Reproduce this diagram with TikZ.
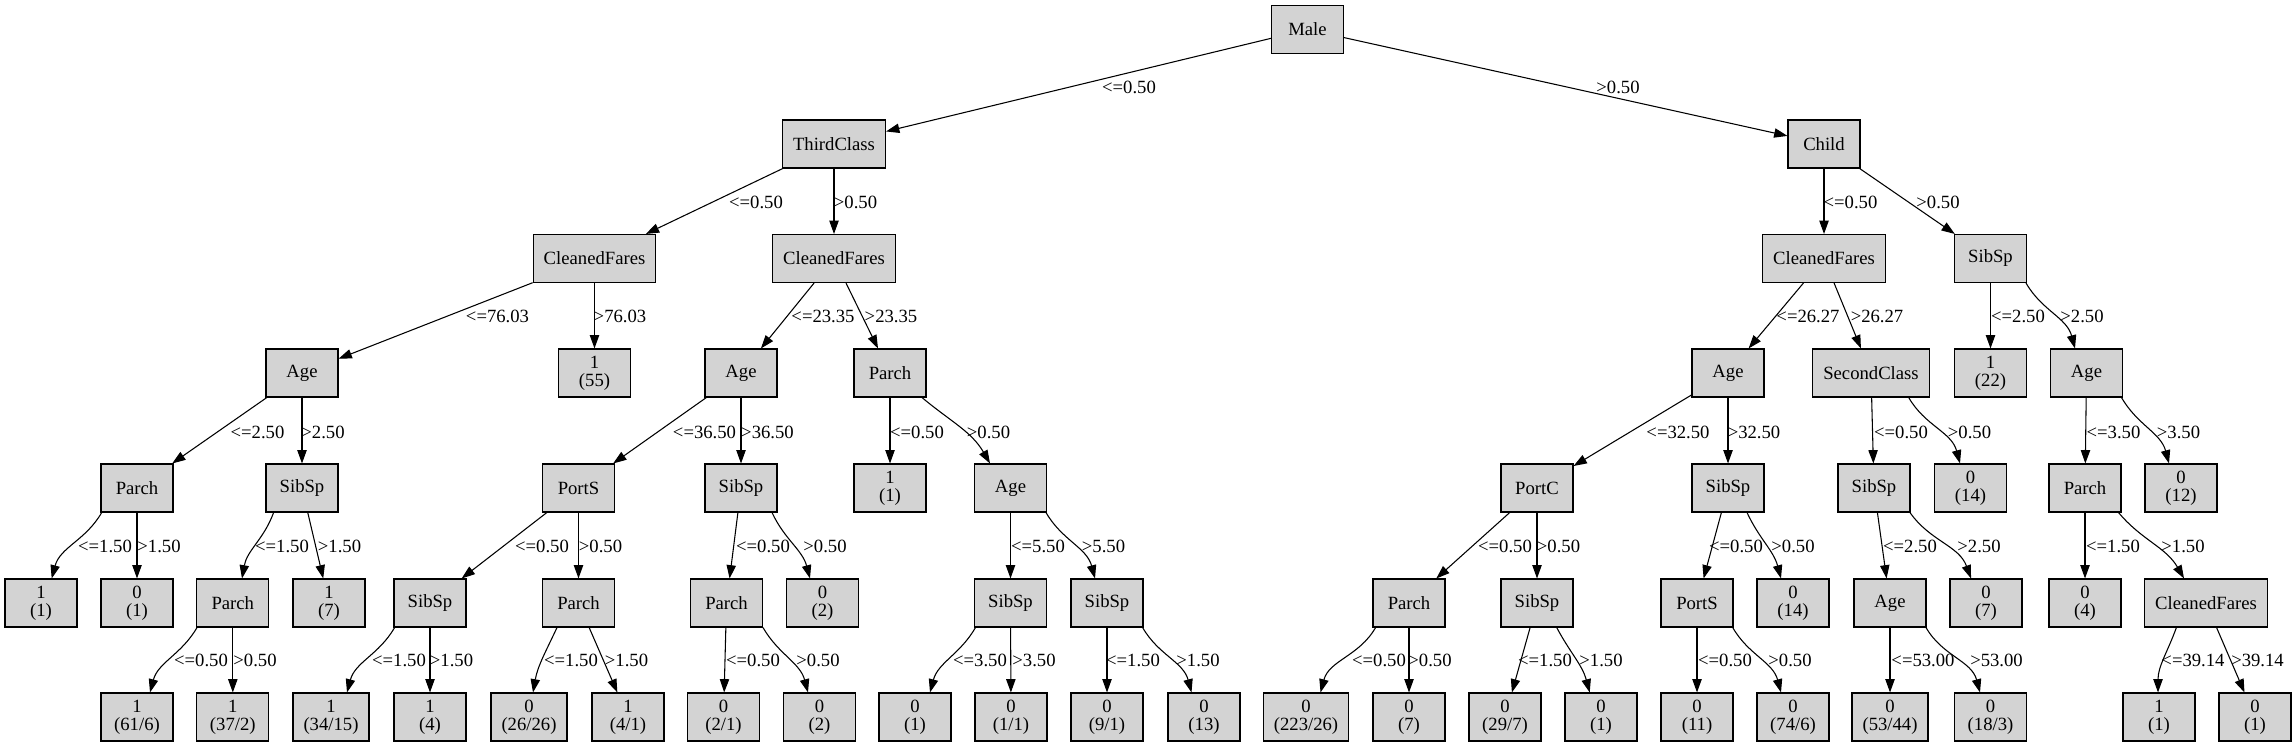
\documentclass[tikz,border=0pt]{standalone}
\usepackage{fontspec}
\setmainfont{Liberation Serif}
\usetikzlibrary{arrows.meta,calc}
\definecolor{nodegray}{HTML}{D3D3D3}
\newcommand\es[5]{\draw[conn] (#1) -- (#2) node[lbl] at (#4,#5) {#3};}
\newcommand\ec[9]{\draw[conn] ($(#1.south)+(#2,0)$) to[out=#5,in=#6] ($(#3.north)+(#4,0)$) node[lbl] at (#8,#9) {#7};}
\begin{document}
\begin{tikzpicture}[x=0.75pt,y=0.75pt,
  box/.style={draw=black, fill=nodegray, line width=0.8pt, rectangle, minimum width=54pt, minimum height=36pt, inner xsep=7.9pt, inner ysep=2pt, align=center, font=\fontsize{14pt}{13.7pt}\selectfont},
  conn/.style={draw=black, line width=0.8pt, -{Triangle[length=10pt,width=7pt]}},
  lbl/.style={font=\fontsize{14pt}{16pt}\selectfont, inner sep=0pt}]
\useasboundingbox (0,0) rectangle (2296,-747);
% row 0
\node[box] (n0) at (1307.5,-29.5) {Male};
% row 1
\node[box] (n1) at (834,-144) {ThirdClass};
\node[box] (n2) at (1824,-144) {Child};
% row 2
\node[box] (n3) at (594.5,-258.5) {CleanedFares};
\node[box] (n4) at (834,-258.5) {CleanedFares};
\node[box] (n5) at (1824,-258.5) {CleanedFares};
\node[box] (n6) at (1990.5,-258.5) {SibSp};
% row 3
\node[box] (n7) at (302,-373) {Age};
\node[box] (n8) at (594.5,-373) {1\\(55)};
\node[box] (n9) at (741,-373) {Age};
\node[box] (n10) at (890,-373) {Parch};
\node[box] (n11) at (1728,-373) {Age};
\node[box] (n12) at (1871,-373) {SecondClass};
\node[box] (n13) at (1990.5,-373) {1\\(22)};
\node[box] (n14) at (2086.5,-373) {Age};
% row 4
\node[box] (n15) at (137,-488) {Parch};
\node[box] (n16) at (302,-488) {SibSp};
\node[box] (n17) at (578.5,-488) {PortS};
\node[box] (n18) at (741,-488) {SibSp};
\node[box] (n19) at (890,-488) {1\\(1)};
\node[box] (n20) at (1010.5,-488) {Age};
\node[box] (n21) at (1537,-488) {PortC};
\node[box] (n22) at (1728,-488) {SibSp};
\node[box] (n23) at (1874,-488) {SibSp};
\node[box] (n24) at (1970.5,-488) {0\\(14)};
\node[box] (n25) at (2085,-488) {Parch};
\node[box] (n26) at (2181,-488) {0\\(12)};
% row 5
\node[box] (n27) at (41,-603) {1\\(1)};
\node[box] (n28) at (137,-603) {0\\(1)};
\node[box] (n29) at (232.8,-603) {Parch};
\node[box] (n30) at (329,-603) {1\\(7)};
\node[box] (n31) at (430,-603) {SibSp};
\node[box] (n32) at (578.5,-603) {Parch};
\node[box] (n33) at (726.5,-603) {Parch};
\node[box] (n34) at (822.5,-603) {0\\(2)};
\node[box] (n35) at (1010.5,-603) {SibSp};
\node[box] (n36) at (1107,-603) {SibSp};
\node[box] (n37) at (1409,-603) {Parch};
\node[box] (n38) at (1537,-603) {SibSp};
\node[box] (n39) at (1697,-603) {PortS};
\node[box] (n40) at (1793,-603) {0\\(14)};
\node[box] (n41) at (1890,-603) {Age};
\node[box] (n42) at (1986,-603) {0\\(7)};
\node[box] (n43) at (2085,-603) {0\\(4)};
\node[box] (n44) at (2206,-603) {CleanedFares};
% row 6
\node[box] (n45) at (137,-717) {1\\(61/6)};
\node[box] (n46) at (232.8,-717) {1\\(37/2)};
\node[box] (n47) at (331,-717) {1\\(34/15)};
\node[box] (n48) at (430,-717) {1\\(4)};
\node[box] (n49) at (529,-717) {0\\(26/26)};
\node[box] (n50) at (628,-717) {1\\(4/1)};
\node[box] (n51) at (723.5,-717) {0\\(2/1)};
\node[box] (n52) at (819.5,-717) {0\\(2)};
\node[box] (n53) at (915,-717) {0\\(1)};
\node[box] (n54) at (1011,-717) {0\\(1/1)};
\node[box] (n55) at (1107,-717) {0\\(9/1)};
\node[box] (n56) at (1204,-717) {0\\(13)};
\node[box] (n57) at (1306,-717) {0\\(223/26)};
\node[box] (n58) at (1409,-717) {0\\(7)};
\node[box] (n59) at (1505,-717) {0\\(29/7)};
\node[box] (n60) at (1601,-717) {0\\(1)};
\node[box] (n61) at (1697,-717) {0\\(11)};
\node[box] (n62) at (1793,-717) {0\\(74/6)};
\node[box] (n63) at (1890,-717) {0\\(53/44)};
\node[box] (n64) at (1990.5,-717) {0\\(18/3)};
\node[box] (n65) at (2159,-717) {1\\(1)};
\node[box] (n66) at (2255,-717) {0\\(1)};
% row 0-1
\es{n0}{n1}{<=0.50}{1129}{-87}
\es{n0}{n2}{>0.50}{1618}{-87}
% row 1-2
\es{n1}{n3}{<=0.50}{756}{-202}
\es{n1}{n4}{>0.50}{855.5}{-202}
\es{n2}{n5}{<=0.50}{1850.5}{-202}
\es{n2}{n6}{>0.50}{1938}{-202}
% row 2-3
\es{n3}{n7}{<=76.03}{497.5}{-316}
\es{n3}{n8}{>76.03}{620}{-316}
\es{n4}{n9}{<=23.35}{823}{-316}
\es{n4}{n10}{>23.35}{891}{-316}
\es{n5}{n11}{<=26.27}{1808}{-316}
\es{n5}{n12}{>26.27}{1877}{-316}
\es{n6}{n13}{<=2.50}{2018}{-316}
\ec{n6}{35.5}{n14}{-11.5}{-60}{105}{>2.50}{2082}{-316}
% row 3-4
\es{n7}{n15}{<=2.50}{257.5}{-432}
\es{n7}{n16}{>2.50}{323}{-432}
\es{n9}{n17}{<=36.50}{704.5}{-432}
\es{n9}{n18}{>36.50}{767.5}{-432}
\es{n10}{n19}{<=0.50}{917}{-432}
\ec{n10}{32}{n20}{-20.5}{-40}{120}{>0.50}{988.5}{-432}
\es{n11}{n21}{<=32.50}{1678}{-432}
\es{n11}{n22}{>32.50}{1754}{-432}
\es{n12}{n23}{<=0.50}{1901}{-432}
\ec{n12}{37.7}{n24}{-10.5}{-60}{105}{>0.50}{1969.5}{-432}
\es{n14}{n25}{<=3.50}{2113.5}{-432}
\ec{n14}{35}{n26}{-12}{-60}{105}{>3.50}{2178.5}{-432}
% row 4-5
\ec{n15}{-35.3}{n27}{10.7}{-120}{75}{<=1.50}{105}{-546}
\es{n15}{n28}{>1.50}{159}{-546}
\ec{n16}{-28.4}{n29}{9.2}{-110}{80}{<=1.50}{282}{-546}
\es{n16}{n30}{>1.50}{339.5}{-546}
\es{n17}{n31}{<=0.50}{542}{-546}
\es{n17}{n32}{>0.50}{600.5}{-546}
\es{n18}{n33}{<=0.50}{763}{-546}
\ec{n18}{31}{n34}{-12.5}{-65}{105}{>0.50}{825}{-546}
\es{n20}{n35}{<=5.50}{1038}{-546}
\ec{n20}{35.5}{n36}{-12}{-60}{105}{>5.50}{1103.5}{-546}
\es{n21}{n37}{<=0.50}{1505}{-546}
\es{n21}{n38}{>0.50}{1558.5}{-546}
\es{n22}{n39}{<=0.50}{1736}{-546}
\ec{n22}{19}{n40}{-12}{-65}{105}{>0.50}{1793}{-546}
\es{n23}{n41}{<=2.50}{1910}{-546}
\ec{n23}{36}{n42}{-15}{-55}{110}{>2.50}{1979}{-546}
\es{n25}{n43}{<=1.50}{2113}{-546}
\ec{n25}{33.5}{n44}{-22}{-50}{120}{>1.50}{2183}{-546}
% row 5-6
\ec{n29}{-35.8}{n45}{13}{-120}{75}{<=0.50}{201}{-660}
\es{n29}{n46}{>0.50}{255}{-660}
\ec{n31}{-35.4}{n47}{16}{-120}{75}{<=1.50}{399}{-660}
\es{n31}{n48}{>1.50}{451.5}{-660}
\ec{n32}{-21.5}{n49}{4}{-115}{80}{<=1.50}{571}{-660}
\es{n32}{n50}{>1.50}{626.5}{-660}
\es{n33}{n51}{<=0.50}{753}{-660}
\ec{n33}{36.5}{n52}{-11.5}{-60}{105}{>0.50}{818}{-660}
\ec{n35}{-35}{n53}{15}{-120}{75}{<=3.50}{980}{-660}
\es{n35}{n54}{>3.50}{1034}{-660}
\es{n36}{n55}{<=1.50}{1133}{-660}
\ec{n36}{35.6}{n56}{-12.5}{-60}{105}{>1.50}{1198}{-660}
\ec{n37}{-33.4}{n57}{14.5}{-120}{75}{<=0.50}{1379}{-660}
\es{n37}{n58}{>0.50}{1430}{-660}
\es{n38}{n59}{<=1.50}{1545}{-660}
\ec{n38}{19.7}{n60}{-11.3}{-62}{105}{>1.50}{1601}{-660}
\es{n39}{n61}{<=0.50}{1725}{-660}
\ec{n39}{35.7}{n62}{-12}{-60}{105}{>0.50}{1790}{-660}
\es{n41}{n63}{<=53.00}{1923}{-660}
\ec{n41}{36}{n64}{-10.5}{-60}{105}{>53.00}{1996.5}{-660}
\ec{n44}{-29.6}{n65}{-1}{-110}{90}{<=39.14}{2193}{-660}
\es{n44}{n66}{>39.14}{2257.5}{-660}
\end{tikzpicture}
\end{document}
